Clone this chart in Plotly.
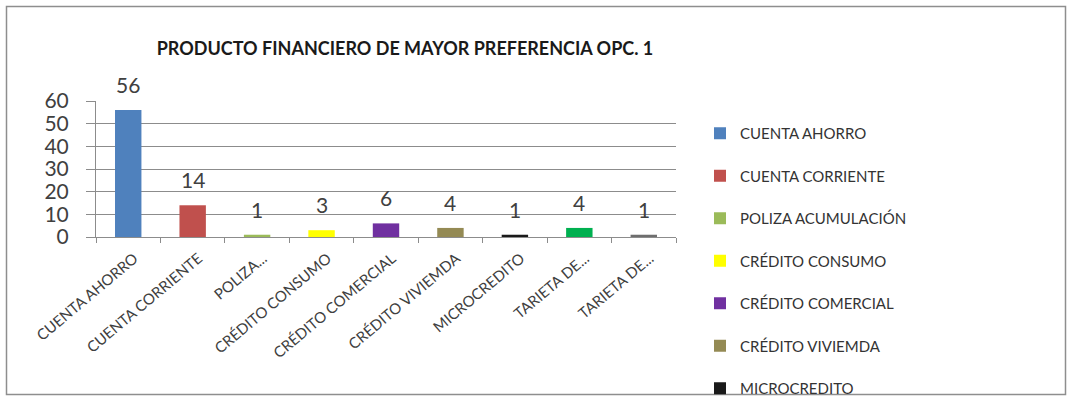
import plotly.graph_objects as go

# Survey results: preferred financial product (option 1)
categories = ["CUENTA AHORRO", "CUENTA CORRIENTE", "POLIZA ACUMULACIÓN", "CRÉDITO CONSUMO",
              "CRÉDITO COMERCIAL", "CRÉDITO VIVIEMDA", "MICROCREDITO", "TARIETA DE...", "TARIETA DE..."]
tick_labels = ["CUENTA AHORRO", "CUENTA CORRIENTE", "POLIZA...", "CRÉDITO CONSUMO",
               "CRÉDITO COMERCIAL", "CRÉDITO VIVIEMDA", "MICROCREDITO", "TARIETA DE...", "TARIETA DE..."]
values = [56, 14, 1, 3, 6, 4, 1, 4, 1]
colors = ["#4F81BD", "#C0504D", "#9BBB59", "#FFFF00", "#7030A0", "#948A54", "#1A1A1A", "#00B050", "#6E6E6E"]
# the legend box only has room for the first seven entries
in_legend = [True, True, True, True, True, True, True, False, False]
y_ticks = [0, 10, 20, 30, 40, 50, 60]

W, H = 1067, 396
L, R, T, B = 96, 391, 101, 159
PW, PH = W - L - R, H - T - B


def px_x(p):
    return (p - L) / PW


def px_y(p):
    return 1 - (p - T) / PH


FONT = "Lato"
TXT = "#404040"

fig = go.Figure()
positions = list(range(len(categories)))
for i, (name, v, c, show) in enumerate(zip(categories, values, colors, in_legend)):
    fig.add_trace(go.Bar(
        x=[positions[i]], y=[v], name=name, marker=dict(color=c, line=dict(width=0)),
        width=0.41, legendgroup=f"g{i}", showlegend=show,
    ))
    fig.add_annotation(x=positions[i], y=v, text=str(v), showarrow=False,
                       yanchor="bottom", yshift=11, font=dict(family=FONT, size=21, color=TXT))

fig.update_layout(
    width=W, height=H,
    margin=dict(l=L, r=R, t=T, b=B, autoexpand=False),
    paper_bgcolor="white", plot_bgcolor="white",
    barmode="overlay",
    title=dict(text="<b>PRODUCTO FINANCIERO DE MAYOR PREFERENCIA OPC. 1</b>",
               x=px_x(405), xref="paper", y=1 - 49 / H, yref="container",
               xanchor="center", yanchor="middle",
               font=dict(family=FONT, size=18, color="#1a1a1a")),
    legend=dict(x=px_x(700), y=px_y(117), xanchor="left", yanchor="top",
                font=dict(family=FONT, size=15, color="#333333"),
                tracegroupgap=20, itemwidth=30, bgcolor="rgba(0,0,0,0)",
                maxheight=600),
    showlegend=True,
)

fig.update_xaxes(
    range=[-0.5, len(categories) - 0.5],
    tickmode="array", tickvals=positions, ticktext=tick_labels,
    tickangle=-40, ticks="", showgrid=False,
    ticklabelstandoff=6, ticklabelshift=6,
    tickfont=dict(family=FONT, size=15, color=TXT),
    showline=True, linecolor="#8C8C8C", linewidth=1,
    minor=dict(tickmode="array", tickvals=[p - 0.5 for p in positions] + [positions[-1] + 0.5],
               ticks="outside", ticklen=5, tickcolor="#8C8C8C", showgrid=False),
    zeroline=False, automargin=False,
)
fig.update_yaxes(
    range=[0, 60], tickmode="array", tickvals=y_ticks,
    showgrid=True, gridcolor="#8C8C8C", gridwidth=1,
    ticks="outside", ticklen=9, tickcolor="#8C8C8C",
    ticklabelstandoff=13,
    tickfont=dict(family=FONT, size=21, color=TXT),
    showline=True, linecolor="#8C8C8C", linewidth=1,
    zeroline=False, automargin=False,
)

# outer chart frame
fig.add_shape(type="rect", xref="paper", yref="paper",
              x0=px_x(6.5), x1=px_x(1065.5), y0=px_y(394.5), y1=px_y(6.5),
              line=dict(color="#8E8E8E", width=1.5), fillcolor="rgba(0,0,0,0)", layer="below")

fig.write_html("out.html")
